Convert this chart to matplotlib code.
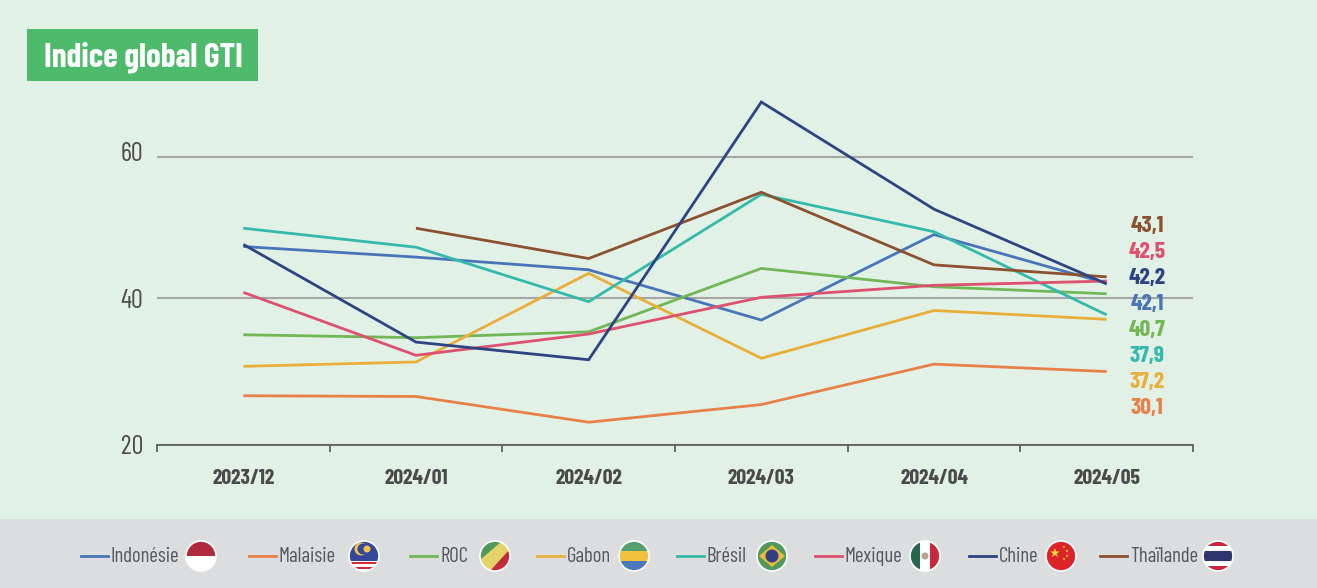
import numpy as np
from matplotlib import pyplot as plt
from matplotlib.patches import Circle, Polygon, Rectangle
from matplotlib.transforms import ScaledTranslation

months = ['2023/12', '2024/01', '2024/02', '2024/03', '2024/04', '2024/05']
names = ['Indonésie', 'Malaisie', 'ROC', 'Gabon', 'Brésil', 'Mexique', 'Chine', 'Thaïlande']

indonesie = [47.3, 45.8, 44.0, 37.0, 49.0, 42.1]
malaisie = [26.7, 26.6, 23.1, 25.5, 31.0, 30.0]
roc = [35.0, 34.6, 35.4, 44.2, 41.6, 40.6]
gabon = [30.7, 31.3, 43.5, 31.8, 38.3, 37.1]
bresil = [49.9, 47.2, 39.5, 54.7, 49.4, 37.7]
mexique = [40.8, 32.2, 35.1, 40.1, 41.8, 42.4]
chine = [47.6, 34.0, 31.6, 67.8, 52.6, 42.0]
thailande = [np.nan, 49.9, 45.6, 55.0, 44.7, 43.0]

end_labels = ['43,1', '42,5', '42,2', '42,1', '40,7', '37,9', '37,2', '30,1']
y_ticks = [20, 40, 60]

colors = {'Indonésie': '#4a74b8', 'Malaisie': '#e8804a', 'ROC': '#72b657', 'Gabon': '#e8af3a',
          'Brésil': '#35b9ab', 'Mexique': '#dd5070', 'Chine': '#2e4480', 'Thaïlande': '#8a5230'}
end_colors = ['#8a5230', '#dd5070', '#2e4480', '#4a74b8', '#72b657', '#35b9ab', '#e8af3a', '#e8804a']
series = [indonesie, malaisie, roc, gabon, bresil, mexique, thailande, chine]
series_names = ['Indonésie', 'Malaisie', 'ROC', 'Gabon', 'Brésil', 'Mexique', 'Thaïlande', 'Chine']

NARROW = ['Barlow Condensed', 'Archivo Narrow', 'Roboto']
W, H = 1317, 588
BG = '#e2f1e6'

fig = plt.figure(figsize=(W / 100, H / 100), dpi=100, facecolor=BG)

# overlay in pixel coordinates for the title box, footer and flags
over = fig.add_axes([0, 0, 1, 1])
over.set_xlim(0, W)
over.set_ylim(H, 0)
over.axis('off')
over.add_patch(Rectangle((0, 519), W, 69, color='#dcdddf', lw=0))
over.add_patch(Rectangle((27, 29), 231, 52, color='#4dbb6b', lw=0))
over.text(143, 57, 'Indice global GTI', color='white', fontsize=24, fontweight='bold',
          family=NARROW, ha='center', va='center')


# the chart: the axis is a bit uneven in the original, 20-40 is wider than 40-60
def fwd(v):
    return np.interp(v, [0, 20, 40, 60, 80], [-147, 0, 147, 288, 429])


def inv(p):
    return np.interp(p, [-147, 0, 147, 288, 429], [0, 20, 40, 60, 80])


top = 86
ax = fig.add_axes([157 / W, (H - 445) / H, (1193 - 157) / W, (445 - top) / H])
ax.patch.set_alpha(0)
ax.set_yscale('function', functions=(fwd, inv))
ax.set_ylim(20, inv(445 - top))
ax.set_xlim(-0.5, 5.5)
for s in ['top', 'left', 'right']:
    ax.spines[s].set_visible(False)
ax.spines['bottom'].set_color('#555555')
ax.spines['bottom'].set_linewidth(1.2)
ax.set_yticks(y_ticks)
ax.set_yticklabels([str(t) for t in y_ticks], family=NARROW, fontsize=19, color='#4d4d4d')
ax.tick_params(axis='y', length=0, pad=10)
ax.set_yticks([], minor=True)
ax.grid(axis='y', color='#a6a6a6', lw=1.5)
ax.set_axisbelow(True)
# the 60 sits a little above its gridline in the original
lab60 = ax.get_yticklabels()[2]
lab60.set_transform(lab60.get_transform() + ScaledTranslation(0, 0.06, fig.dpi_scale_trans))
ax.set_xticks(np.arange(-0.5, 6, 1))
ax.set_xticklabels([])
ax.tick_params(axis='x', length=5, width=1.2, color='#555555')
for i, m in enumerate(months):
    ax.annotate(m, (i, 0), xycoords=('data', 'axes fraction'), xytext=(0, -33), textcoords='offset pixels',
                ha='center', va='center', fontsize=15.5, fontweight='bold', family=NARROW, color='#4a4a4a')

for name, vals in zip(series_names, series):
    ax.plot(range(6), vals, color=colors[name], lw=2, solid_capstyle='butt', solid_joinstyle='miter')

for i, (lab, c) in enumerate(zip(end_labels, end_colors)):
    over.text(1147, 226 + 26 * i, lab, color=c, fontsize=17, fontweight='bold', family=NARROW,
              ha='center', va='center', zorder=6)
over.set_zorder(3)
over.patch.set_alpha(0)


def clip_add(cx, cy, patches, r=15):
    circle = Circle((cx, cy), r, transform=over.transData, fc='none', ec='none')
    over.add_patch(circle)
    for p in patches:
        over.add_patch(p)
        p.set_clip_path(circle)
    over.add_patch(Circle((cx, cy), r, fc='none', ec='white', lw=1.2, zorder=5))


def box(x, y, w, h, c):
    return Rectangle((x, y), w, h, fc=c, ec='none')


def star(cx, cy, r):
    a = np.deg2rad(np.arange(0, 360, 36) - 90)
    rad = np.tile([r, r * 0.4], 5)
    return np.column_stack([cx + rad * np.cos(a), cy + rad * np.sin(a)])


def flag(name, x, y):
    r = 15
    x0, y0 = x - r, y - r
    d = 2 * r
    if name == 'Indonésie':
        parts = [box(x0, y0, d, r, '#ae2a3c'), box(x0, y, d, r, 'white')]
    elif name == 'Malaisie':
        parts = [box(x0, y0, d, d, 'white'), box(x0, y0, d, 20, '#34479a')]
        for k in [20.5, 25.5]:
            parts.append(box(x0, y0 + k, d, 2.5, '#d6293e'))
        parts.append(Circle((x - 3, y - 7), 6.5, fc='#f4c542', ec='none'))
        parts.append(Circle((x - 1, y - 7), 5.5, fc='#34479a', ec='none'))
        parts.append(Circle((x + 3, y - 7), 3.5, fc='#f4c542', ec='none'))
    elif name == 'ROC':
        parts = [box(x0, y0, d, d, '#e5d268'),
                 Polygon([(x0, y + 4), (x0, y0), (x + 7, y0)], fc='#4f9a58', ec='none'),
                 Polygon([(x + r, y - 7), (x + r, y + r), (x - 5, y + r)], fc='#c22a3a', ec='none')]
    elif name == 'Gabon':
        parts = [box(x0, y0, d, 10, '#55a070'), box(x0, y0 + 10, d, 10, '#f2c23e'), box(x0, y0 + 20, d, 10, '#4e78bd')]
    elif name == 'Brésil':
        parts = [box(x0, y0, d, d, '#4f9a58'),
                 Polygon([(x0 + 2, y), (x, y - 11), (x + r - 2, y), (x, y + 11)], fc='#e8bb3c', ec='none'),
                 Circle((x, y), 6.5, fc='#33407f', ec='none')]
    elif name == 'Mexique':
        parts = [box(x0, y0, d, d, 'white'), box(x0, y0, 10, d, '#26664c'), box(x0 + 20, y0, 10, d, '#c8283c'),
                 Circle((x, y), 3.5, fc='#b9a58c', ec='none')]
    elif name == 'Chine':
        parts = [box(x0, y0, d, d, '#dc2329'),
                 Polygon(star(x - 6, y - 3, 5), fc='#f6d23a', ec='none')]
        for sx, sy in [(3, -9), (6, -5), (6, 0), (3, 3)]:
            parts.append(Polygon(star(x + sx, y + sy, 1.7), fc='#f6d23a', ec='none'))
    else:
        parts = [box(x0, y0, d, d, 'white'), box(x0, y0, d, 5, '#c8283c'), box(x0, y0 + 25, d, 5, '#c8283c'),
                 box(x0, y0 + 10, d, 10, '#31356f')]
    clip_add(x, y, parts)


# footer legend
line_x = [81, 249, 410, 537, 677, 815, 969, 1100]
flag_x = [201, 364, 495, 634, 772, 925, 1061, 1218]
for name, lx, fx in zip(names, line_x, flag_x):
    over.plot([lx, lx + 27], [556, 556], color=colors[name], lw=2)
    over.text(lx + 30, 556, name, color='#555a60', fontsize=15, family=NARROW, ha='left', va='center')
    flag(name, fx, 556)
over.set_xlim(0, W)
over.set_ylim(H, 0)

fig.savefig('out.png', dpi=100, facecolor=BG)
